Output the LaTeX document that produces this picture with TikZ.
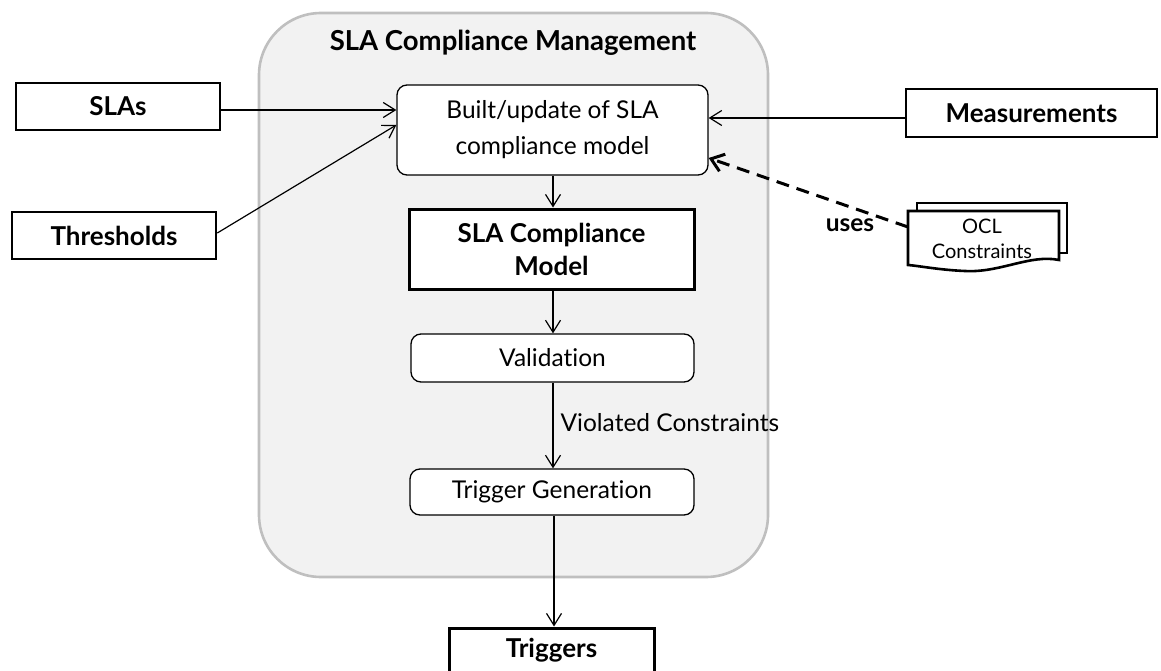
\documentclass[tikz,border=0pt]{standalone}
\usepackage{fontspec}
\setmainfont{Lato}[Ligatures={NoCommon}]
\usetikzlibrary{arrows.meta}
\definecolor{contfill}{HTML}{F2F2F2}
\definecolor{contline}{HTML}{BFBFBF}
\tikzset{
  ext/.style={draw, line width=2.6pt, fill=white, inner sep=0pt, font=\fontsize{26}{30}\selectfont\bfseries, align=center},
  proc/.style={draw, line width=1.3pt, fill=white, rounded corners=10pt, inner sep=0pt, font=\fontsize{24.5}{36}\selectfont, align=center},
  conn/.style={line width=1.2pt, -{Straight Barb[length=12pt,width=15pt,line width=1.2pt]}},
}
\begin{document}
\begin{tikzpicture}[x=1pt,y=-1pt]
\useasboundingbox (0,0) rectangle (1161,671);
% container
\draw[fill=contfill, draw=contline, line width=2.6pt, rounded corners=62pt] (259,13) rectangle (768,577);
\node[font=\fontsize{27.5}{30}\selectfont\bfseries] (title) at (513,43) {SLA Compliance Management};
% process nodes
\node[proc, minimum width=311pt, minimum height=90pt] (built) at (552.5,130) {Built/update of SLA\\compliance model};
\node[ext, line width=3pt, minimum width=285pt, minimum height=80pt, font=\fontsize{26}{33}\selectfont\bfseries] (scm) at (551.5,249) {SLA Compliance\\Model};
\node[proc, minimum width=283pt, minimum height=48pt] (valid) at (552.5,358) {Validation};
\node[proc, minimum width=284pt, minimum height=46pt] (trig) at (552,492) {Trigger Generation};
% external nodes
\node[ext, minimum width=204pt, minimum height=47pt] (slas) at (118,106.5) {SLAs};
\node[ext, minimum width=204pt, minimum height=47pt] (thr) at (114,235.5) {Thresholds};
\node[ext, minimum width=251pt, minimum height=48pt] (meas) at (1031.5,113) {Measurements};
\node[ext, line width=3pt, minimum width=205pt, minimum height=44pt] (trg) at (551.5,650) {Triggers};
% OCL document
\draw[line width=2.6pt, fill=white] (917,211) -- (917,203) -- (1067,203) -- (1067,253) -- (1059,253);
\draw[line width=2.6pt, fill=white] (908,211) -- (1059,211) -- (1059,260)
  .. controls (1030,254) and (1000,273) .. (965,271)
  .. controls (940,270) and (920,266) .. (908,265) -- cycle;
\coordinate (docw) at (908,227);
\node[font=\fontsize{20}{25}\selectfont, align=center, inner sep=0pt] (ocl) at (982,239) {OCL\\Constraints};
% connectors
\draw[conn] (slas.east |- 0,110) -- (built.west |- 0,110);
\draw[conn] (thr.east |- 0,233) -- (built.west |- 0,125);
\draw[conn] (meas.west |- 0,118) -- (built.east |- 0,118);
\draw[conn] (built.south -| 553,0) -- (scm.north -| 553,0);
\draw[conn] (scm.south -| 553,0) -- (valid.north -| 553,0);
\draw[conn] (valid.south -| 553,0) -- node[right, pos=0.47, inner sep=7pt, font=\fontsize{24.5}{28}\selectfont] {Violated Constraints} (trig.north -| 553,0);
\draw[conn] (trig.south -| 554,0) -- (trg.north -| 554,0);
\draw[line width=3pt, dash pattern=on 13pt off 8pt, -{Straight Barb[length=12pt,width=18pt,line width=3pt]}]
  (docw) -- (built.east |- 0,158);
\node[font=\fontsize{24.5}{28}\selectfont\bfseries, inner sep=0pt] (uses) at (850,225) {uses};
\end{tikzpicture}
\end{document}
